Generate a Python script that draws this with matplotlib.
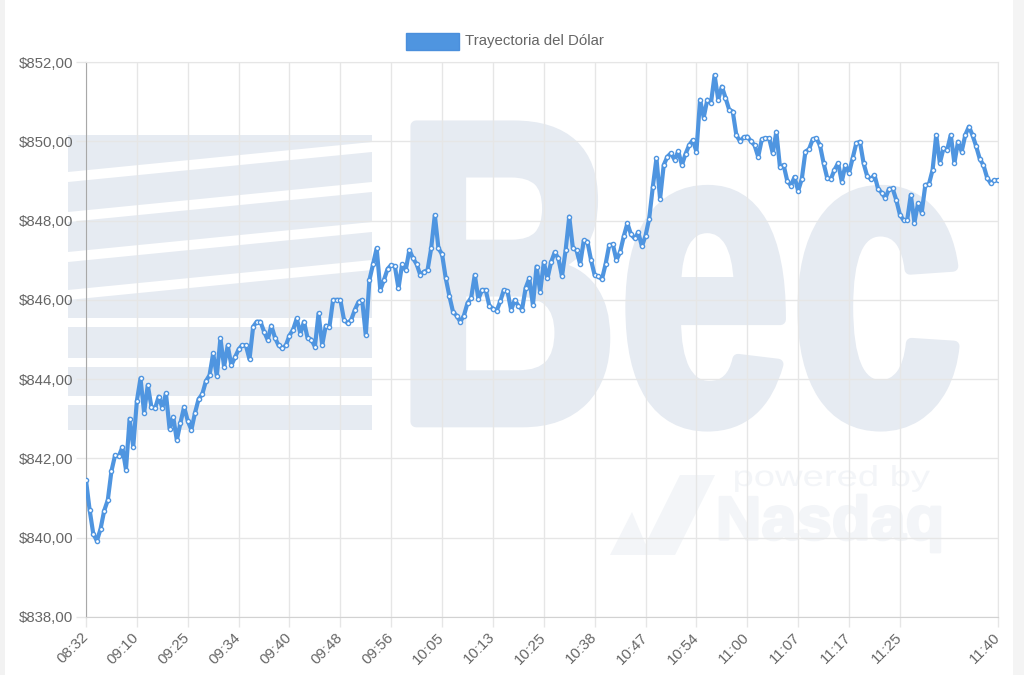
import matplotlib
matplotlib.use('Agg')
import matplotlib.pyplot as plt
from matplotlib.patches import Rectangle, PathPatch, Polygon
from matplotlib.textpath import TextPath
from matplotlib.font_manager import FontProperties
from matplotlib.ticker import FuncFormatter
from matplotlib.transforms import Affine2D

plt.rcParams['font.family'] = ['Liberation Sans', 'DejaVu Sans']

# etiquetas visibles del eje x (cada 14 puntos, la ultima al final)
etiquetas = ['08:32', '09:10', '09:25', '09:34', '09:40', '09:48', '09:56', '10:05', '10:13',
             '10:25', '10:38', '10:47', '10:54', '11:00', '11:07', '11:17', '11:25', '11:40']
paso = 14
serie = 'Trayectoria del Dólar'

precio = [
    841.45, 840.70, 840.10, 839.92, 840.22, 840.68, 840.95, 841.68, 842.08, 842.05, 842.28, 841.72, 843.00, 842.29,
    843.45, 844.02, 843.15, 843.85, 843.30, 843.26, 843.56, 843.28, 843.64, 842.75, 843.05, 842.46, 842.90, 843.30,
    842.95, 842.72, 843.15, 843.50, 843.62, 843.95, 844.10, 844.65, 844.08, 845.03, 844.31, 844.85, 844.35, 844.55,
    844.75, 844.86, 844.85, 844.50, 845.32, 845.45, 845.45, 845.20, 844.99, 845.35, 845.05, 844.85, 844.78, 844.85,
    845.10, 845.25, 845.53, 845.15, 845.45, 845.03, 845.00, 844.82, 845.66, 844.86, 845.35, 845.32, 846.00, 846.00,
    846.00, 845.50, 845.41, 845.50, 845.75, 845.95, 846.00, 845.11, 846.50, 846.90, 847.30, 846.25, 846.50, 846.78,
    846.88, 846.85, 846.29, 846.90, 846.75, 847.26, 847.05, 846.90, 846.63, 846.71, 846.75, 847.30, 848.14, 847.30,
    847.15, 846.55, 846.10, 845.70, 845.60, 845.45, 845.60, 845.92, 846.05, 846.63, 846.02, 846.25, 846.25, 845.85,
    845.78, 845.72, 845.96, 846.25, 846.22, 845.74, 846.00, 845.85, 845.75, 846.30, 846.54, 845.87, 846.84, 846.20,
    846.95, 846.54, 846.95, 847.20, 847.05, 846.59, 847.25, 848.10, 847.30, 847.25, 846.90, 847.50, 847.47, 847.00,
    846.62, 846.59, 846.52, 846.90, 847.38, 847.40, 847.00, 847.21, 847.60, 847.93, 847.65, 847.55, 847.70, 847.35,
    847.62, 848.05, 848.85, 849.57, 848.55, 849.40, 849.61, 849.70, 849.53, 849.75, 849.40, 849.68, 849.90, 850.03,
    849.74, 851.05, 850.60, 851.05, 850.96, 851.67, 851.05, 851.38, 851.10, 850.80, 850.75, 850.15, 850.00, 850.10,
    850.12, 850.00, 849.90, 849.61, 850.05, 850.08, 850.08, 849.70, 850.24, 849.34, 849.40, 849.00, 848.88, 849.10,
    848.75, 849.05, 849.74, 849.80, 850.05, 850.08, 849.90, 849.45, 849.07, 849.05, 849.28, 849.45, 848.98, 849.40,
    849.20, 849.57, 849.95, 849.99, 849.45, 849.12, 849.05, 849.15, 848.80, 848.70, 848.56, 848.80, 848.81, 848.52,
    848.15, 848.01, 848.01, 848.65, 847.95, 848.44, 848.20, 848.90, 848.92, 849.28, 850.16, 849.45, 849.82, 849.78,
    850.16, 849.45, 849.99, 849.74, 850.16, 850.37, 850.15, 849.87, 849.55, 849.40, 849.08, 848.94, 849.02, 849.02,
]

azul = '#4f95e0'
gris_texto = '#666666'
gris_grid = '#e6e6e6'
marca_color = '#e6ebf2'
marca_clara = '#f3f5f8'

W, H = 1024, 675
fig = plt.figure(figsize=(W / 100, H / 100), dpi=100)
ax = fig.add_axes([86 / W, 1 - 617 / H, (998 - 86) / W, (617 - 62) / H])
ax.set_facecolor('none')


def fx(px):
    return px / W


def fy(py):
    return 1 - py / H


def marca(texto, x0, y0, x1, y1, color, peso='bold', grosor=0):
    # texto de la marca de agua ajustado a una caja en pixeles
    tp = TextPath((0, 0), texto, size=100,
                  prop=FontProperties(family='Liberation Sans', weight=peso))
    e = tp.get_extents()
    t = (Affine2D().translate(-e.x0, -e.y0)
         .scale((fx(x1) - fx(x0)) / e.width, (fy(y0) - fy(y1)) / e.height)
         .translate(fx(x0), fy(y1)))
    fig.add_artist(PathPatch(t.transform_path(tp), transform=fig.transFigure,
                             fc=color, ec=color if grosor else 'none', lw=grosor,
                             joinstyle='round', zorder=-2))


def poly(puntos, color):
    fig.add_artist(Polygon([(fx(a), fy(b)) for a, b in puntos], closed=True,
                           transform=fig.transFigure, fc=color, ec='none', zorder=-2))


# marca de agua de fondo
poly([(68, 135), (372, 135), (372, 430), (68, 430)], marca_color)
for y in [150, 190, 230, 268]:
    poly([(68, y + 22), (372, y - 8), (372, y + 2), (68, y + 32)], 'white')
for y in [318, 358, 396]:
    poly([(68, y), (372, y), (372, y + 9), (68, y + 9)], 'white')
marca('Bec', 416, 126, 954, 426, marca_color, grosor=8)
marca('powered by', 735, 465, 930, 492, marca_clara, peso='normal')
marca('Nasdaq', 720, 495, 940, 552, marca_clara, grosor=2)
poly([(640, 555), (680, 475), (715, 475), (675, 555)], marca_clara)
poly([(610, 555), (632, 512), (650, 555)], marca_clara)

# bordes de la captura
fig.add_artist(Rectangle((0, 0), fx(5), 1, transform=fig.transFigure, fc='#f2f2f2', ec='none', zorder=-3))
fig.add_artist(Rectangle((fx(1013), 0), fx(11), 1, transform=fig.transFigure, fc='#f4f4f4', ec='none', zorder=-3))

x = list(range(len(precio)))
ax.plot(x, precio, color=azul, lw=3.0, marker='o', ms=3.0, mfc='white', mec=azul, mew=1.0,
        zorder=3)

pos = [i * paso for i in range(len(etiquetas) - 1)] + [len(precio) - 1]
ax.set_xticks(pos)
ax.set_xticklabels(etiquetas, rotation=45, ha='right', va='center', rotation_mode='anchor')
ax.set_xlim(0, len(precio) - 1)
ax.set_ylim(838, 852)
ax.set_yticks(range(838, 853, 2))
ax.yaxis.set_major_formatter(FuncFormatter(lambda v, p: ('$%.2f' % v).replace('.', ',')))

ax.grid(True, color=gris_grid, lw=1)
ax.set_axisbelow(True)
ax.tick_params(axis='both', length=7, width=1, color=gris_grid, labelcolor=gris_texto, labelsize=10.8)
ax.tick_params(axis='x', pad=6)
ax.tick_params(axis='y', pad=2)
for lado in ['top', 'right']:
    ax.spines[lado].set_color(gris_grid)
ax.spines['bottom'].set_color('#d2d2d2')
ax.spines['left'].set_color('#a8a8a8')

# leyenda
fig.add_artist(Rectangle((fx(406), fy(50)), fx(53), 17 / H, transform=fig.transFigure,
                         fc=azul, ec='#4a8fdc', lw=1))
fig.text(fx(465), fy(41.5), serie, color=gris_texto, fontsize=10.8, va='center', ha='left')

plt.savefig('out.png', dpi=100)
plt.close()
